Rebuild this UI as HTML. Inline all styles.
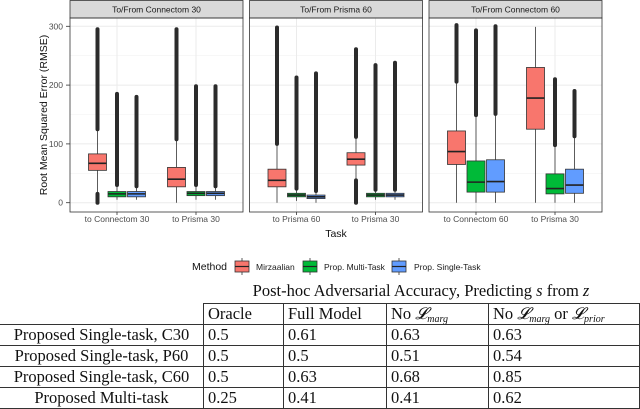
<!DOCTYPE html>
<html><head><meta charset="utf-8">
<style>
body{margin:0;background:#fff;width:640px;height:409px;overflow:hidden;position:relative;font-family:"Liberation Sans",sans-serif}
svg{position:absolute;left:0;top:0}
table{position:absolute;left:-1px;top:303px;border-collapse:collapse;table-layout:fixed;width:640px;font-family:"Liberation Serif",serif;font-size:16.5px;color:#111}
td{border:1px solid #333;height:20px;padding:0 4px;line-height:20px;white-space:nowrap;overflow:hidden;box-sizing:border-box}
td.nb{border:none}
sub{font-size:10px;line-height:0;vertical-align:-3px}
.cap{position:absolute;left:203px;width:436px;top:281px;text-align:center;font-family:"Liberation Serif",serif;font-size:16.5px;color:#111}
</style></head><body>
<svg id="chart" width="640" height="300"></svg>
<div class="cap">Post-hoc Adversarial Accuracy, Predicting <i>s</i> from <i>z</i></div>
<table>
<colgroup><col style="width:204px"><col style="width:80px"><col style="width:103px"><col style="width:102px"><col style="width:151px"></colgroup>
<tr><td class="nb"></td><td>Oracle</td><td>Full Model</td><td>No <i>𝓛<sub>marg</sub></i></td><td>No <i>𝓛<sub>marg</sub></i> or <i>𝓛<sub>prior</sub></i></td></tr>
<tr><td style="text-align:center">Proposed Single-task, C30</td><td>0.5</td><td>0.61</td><td>0.63</td><td>0.63</td></tr>
<tr><td style="text-align:center">Proposed Single-task, P60</td><td>0.5</td><td>0.5</td><td>0.51</td><td>0.54</td></tr>
<tr><td style="text-align:center">Proposed Single-task, C60</td><td>0.5</td><td>0.63</td><td>0.68</td><td>0.85</td></tr>
<tr><td style="text-align:center">Proposed Multi-task</td><td>0.25</td><td>0.41</td><td>0.41</td><td>0.62</td></tr>
</table>
<script>
const panels=["To/From Connectom 30","To/From Prisma 60","To/From Connectom 60"];
const tasks=[["to Connectom 30","to Prisma 30"],["to Prisma 60","to Prisma 30"],["to Connectom 60","to Prisma 30"]];
const methods=["Mirzaalian","Prop. Multi-Task","Prop. Single-Task"];
const colors=["#f8766d","#00ba38","#619cff"];
const yTicks=[0,100,200,300];
// per panel, per task, per method: [whiskLow,q1,median,q3,whiskHigh]
const stats=[
 [[[12,55,67,83,125],[5,10,15,19,30],[5,10,15,19,28]],[[0,27,40,60,108],[5,12,16,19,30],[5,12,16,19,28]]],
 [[[0,27,38,57,100],[3,10,13,16,24],[0,7,10,13,20]],[[38,64,74,85,112],[5,10,13,16,22],[5,10,13,16,22]]],
 [[[0,65,87,122,206],[0,18,35,71,149],[0,18,36,73,151]],[[0,125,178,230,299],[0,15,24,49,98],[0,16,30,57,113]]]
];
const outHigh=[
 [[[125,295],[30,185],[28,180]],[[108,295],[30,198],[28,198]]],
 [[[100,298],[24,213],[20,220]],[[112,261],[22,234],[22,238]]],
 [[[206,302],[149,293],[151,300]],[null,[98,210],[113,190]]]
];
const outLow=[[[[0,15],null,null],[null,null,null]],[[null,null,null],[[0,38],null,null]],[[null,null,null],[null,null,null]]];
const svg=document.getElementById('chart');
const NS='http://www.w3.org/2000/svg';
function el(t,a,p){const e=document.createElementNS(NS,t);for(const k in a)e.setAttribute(k,a[k]);(p||svg).appendChild(e);return e;}
const panelLeft=[70,249.5,429],PW=173,PT=18,PB=212;
const y=v=>202.7-v*0.588;
const xTask=(p,t)=>panelLeft[p]+47+t*79;
const dodge=19.5,BW=18;
yTicks.forEach(v=>{
 const t=el('text',{x:63,y:y(v)+3,'text-anchor':'end','font-size':8.5,fill:'#4d4d4d'});t.textContent=v;
 
 
 el('line',{x1:66,x2:70,y1:y(v),y2:y(v),stroke:'#333','stroke-width':0.8});
});
const yt=el('text',{x:0,y:0,'font-size':10.5,fill:'#111','text-anchor':'middle',transform:'translate(47,115) rotate(-90)'});
yt.textContent='Root Mean Squared Error (RMSE)';


panels.forEach((name,p)=>{
 const L=panelLeft[p];
 const g=el('g',{});
 
 
 el('rect',{x:L,y:PT,width:PW,height:PB-PT,fill:'#fff'},g);
 [50,150,250].forEach(v=>el('line',{x1:L,x2:L+PW,y1:y(v),y2:y(v),stroke:'#f2f2f2','stroke-width':0.6},g));
 yTicks.forEach(v=>el('line',{x1:L,x2:L+PW,y1:y(v),y2:y(v),stroke:'#ebebeb','stroke-width':1},g));
 [0,1].forEach(t=>el('line',{x1:xTask(p,t),x2:xTask(p,t),y1:PT,y2:PB,stroke:'#ebebeb','stroke-width':1},g));
 const s=el('rect',{x:L,y:0.5,width:PW,height:PT-0.5,fill:'#d9d9d9',stroke:'#333','stroke-width':0.8},g);
 
 
 const st=el('text',{x:L+PW/2,y:12.5,'text-anchor':'middle','font-size':8.5,fill:'#1a1a1a'},g);st.textContent=name;
 tasks[p].forEach((tn,t)=>{
  const cx=xTask(p,t);
  el('line',{x1:cx,x2:cx,y1:PB,y2:PB+3,stroke:'#333','stroke-width':0.8});
  const tl=el('text',{x:cx,y:222,'text-anchor':'middle','font-size':8.5,fill:'#4d4d4d'});tl.textContent=tn;
  
  
  methods.forEach((m,k)=>{
   const [lo,q1,md,q3,hi]=stats[p][t][k];
   const bx=cx+(k-1)*dodge;
   const b=el('g',{},g);
   
   
   el('line',{x1:bx,x2:bx,y1:y(hi),y2:y(lo),stroke:'#333','stroke-width':0.8},b);
   const oh=outHigh[p][t][k],ol=outLow[p][t][k];
   [oh,ol].forEach(r=>{if(r)el('line',{x1:bx,x2:bx,y1:y(r[0]),y2:y(r[1]),stroke:'#2b2b2b','stroke-width':4,'stroke-linecap':'round'},b);});
   el('rect',{x:bx-BW/2,y:y(q3),width:BW,height:y(q1)-y(q3),fill:colors[k],stroke:'#333','stroke-width':0.8},b);
   el('line',{x1:bx-BW/2,x2:bx+BW/2,y1:y(md),y2:y(md),stroke:'#222','stroke-width':1.6},b);
  });
 });
 el('rect',{x:L,y:PT,width:PW,height:PB-PT,fill:'none',stroke:'#333','stroke-width':0.8},g);
});
const xt=el('text',{x:336,y:237,'text-anchor':'middle','font-size':10.5,fill:'#111'});xt.textContent='Task';


const lt=el('text',{x:192,y:270,'font-size':10.5,fill:'#111'});lt.textContent='Method';


const lx=[235,303,392],tx=[256,324,414];
methods.forEach((m,k)=>{
 const g=el('g',{});
 
 
 el('line',{x1:lx[k]+7,x2:lx[k]+7,y1:258,y2:275,stroke:'#333','stroke-width':0.8},g);
 el('rect',{x:lx[k],y:261,width:14,height:11,fill:colors[k],stroke:'#333','stroke-width':0.8},g);
 el('line',{x1:lx[k],x2:lx[k]+14,y1:266.5,y2:266.5,stroke:'#222','stroke-width':1.2},g);
 const t=el('text',{x:tx[k],y:270,'font-size':8.5,fill:'#1a1a1a'},g);t.textContent=m;
});
</script>
</body></html>
